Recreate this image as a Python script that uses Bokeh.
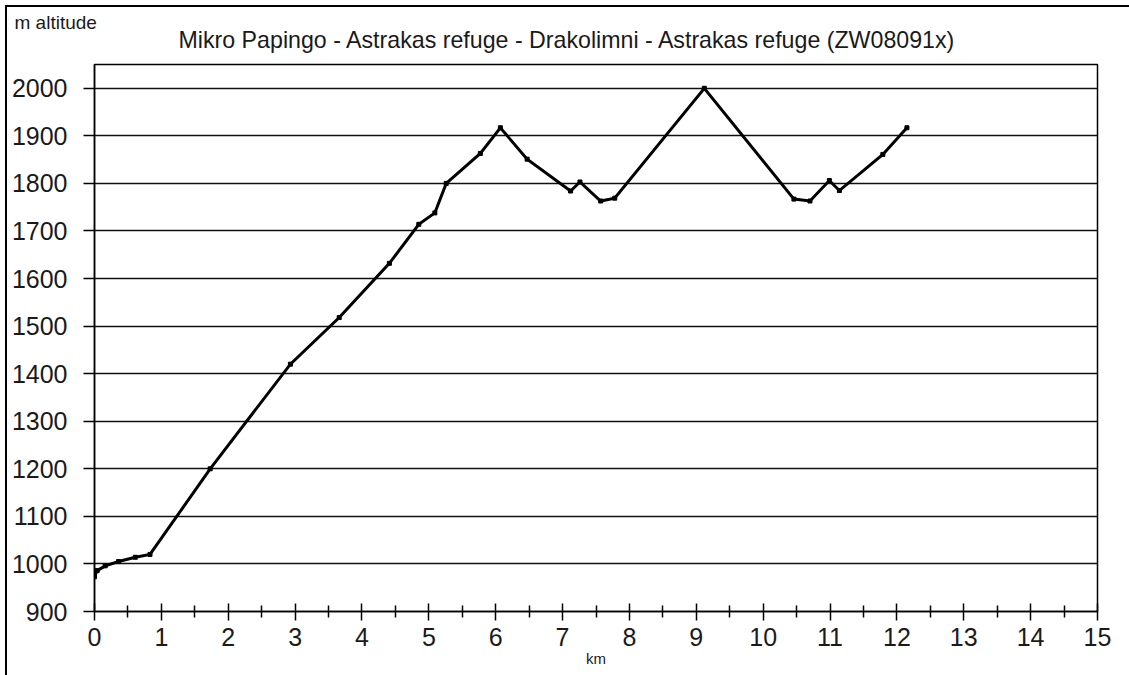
from bokeh.plotting import figure
from bokeh.models import Range1d, Title, FixedTicker
from bokeh.embed import file_html
from bokeh.resources import INLINE

# Data
km = [0.0, 0.04, 0.16, 0.36, 0.61, 0.83, 1.73, 2.93, 3.66, 4.41, 4.85, 5.09, 5.26,
      5.77, 6.07, 6.47, 7.12, 7.26, 7.57, 7.78, 9.12, 10.46, 10.70, 10.99, 11.14,
      11.79, 12.15]
altitude = [973, 986, 996, 1005, 1014, 1020, 1200, 1420, 1518, 1632, 1714, 1738, 1800,
            1863, 1917, 1851, 1784, 1803, 1763, 1769, 2000, 1767, 1763, 1806, 1785,
            1861, 1917]
x_ticks = list(range(0, 16))
y_ticks = list(range(900, 2001, 100))
title_text = "Mikro Papingo - Astrakas refuge - Drakolimni - Astrakas refuge (ZW08091x)"
y_title = "m altitude"
x_title = "km"

FONT = "Liberation Sans"
TXT = "#1a1a1a"

p = figure(frame_width=1003, frame_height=547, output_backend="svg", toolbar_location=None,
           x_range=Range1d(0, 15), y_range=Range1d(900, 2050),
           min_border_left=87, min_border_right=32, min_border_top=57,
           min_border_bottom=64, title=y_title)
p.styles = {"margin-left": "5px", "margin-top": "5px",
            "border-left": "2px solid #000", "border-top": "2px solid #000"}
p.background_fill_color = "white"
p.border_fill_color = "white"
p.outline_line_color = "black"
p.outline_line_width = 1.5

# outermost title: "m altitude" at top-left
p.title.align = "left"
p.title.offset = -80
p.title.standoff = -40
p.title.text_font = FONT
p.title.text_font_size = "19px"
p.title.text_font_style = "normal"
p.title.text_color = TXT

# main title, closest to the frame
p.add_layout(Title(text=title_text, align="left", offset=84, standoff=24,
                   text_font=FONT, text_font_size="23.2px", text_font_style="normal",
                   text_color=TXT), "above")

# grid
p.xgrid.visible = False
p.ygrid.ticker = FixedTicker(ticks=y_ticks)
p.ygrid.grid_line_color = "#111111"
p.ygrid.grid_line_width = 1.5

# x axis
xa = p.xaxis[0]
xa.ticker = FixedTicker(ticks=x_ticks, minor_ticks=[v + 0.5 for v in x_ticks[:-1]])
xa.axis_line_color = "black"
xa.axis_line_width = 1.5
xa.major_tick_in = 8
xa.major_tick_out = 9
xa.major_tick_line_width = 1.5
xa.minor_tick_in = 6
xa.minor_tick_out = 6
xa.minor_tick_line_width = 1.5
xa.major_label_standoff = 7
xa.major_label_text_font = FONT
xa.major_label_text_font_size = "25px"
xa.major_label_text_color = TXT
xa.axis_label = x_title
xa.axis_label_standoff = 1
xa.axis_label_text_font = FONT
xa.axis_label_text_font_size = "15px"
xa.axis_label_text_font_style = "normal"
xa.axis_label_text_color = TXT

# y axis
ya = p.yaxis[0]
ya.ticker = FixedTicker(ticks=y_ticks)
ya.axis_line_color = "black"
ya.axis_line_width = 1.5
ya.major_tick_in = 0
ya.major_tick_out = 11
ya.major_tick_line_width = 1.5
ya.minor_tick_line_color = None
ya.major_label_standoff = 16
ya.major_label_text_font = FONT
ya.major_label_text_font_size = "25px"
ya.major_label_text_color = TXT

# profile
p.line(km, altitude, line_color="black", line_width=3, line_join="miter")
p.scatter(km, altitude, marker="square", size=4, color="black")

open("out.html", "w").write(file_html(p, INLINE))
